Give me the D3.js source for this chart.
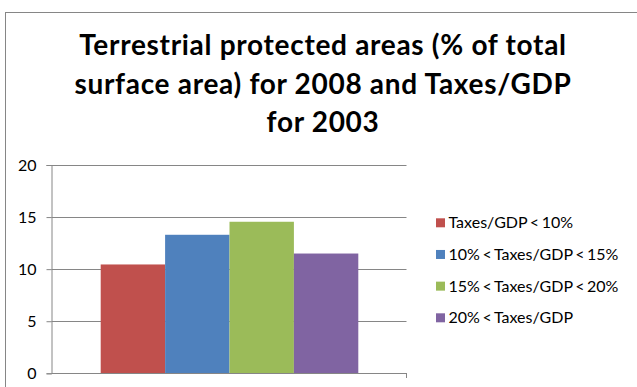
<!DOCTYPE html>
<html><head><meta charset="utf-8">
<script src="https://cdn.jsdelivr.net/npm/d3@7"></script>
<style>body{margin:0;background:#fff}svg{display:block}</style>
</head><body>
<svg id="c" width="637" height="387"></svg>
<script>
const titleLines = ["Terrestrial protected areas (% of total", "surface area) for 2008 and Taxes/GDP", "for 2003"];
const series = ["Taxes/GDP < 10%", "10% < Taxes/GDP < 15%", "15% < Taxes/GDP < 20%", "20% < Taxes/GDP"];
const values = [10.45, 13.3, 14.55, 11.5];
const colors = ["#c0504d", "#4f81bd", "#9bbb59", "#8064a2"];
const yTicks = [0, 5, 10, 15, 20];

(function () {
const svg = d3.select("#c");
const font = "Lato, 'Open Sans', sans-serif";

svg.append("rect").attr("x", 5.5).attr("y", 12.5).attr("width", 700).attr("height", 500)
  .attr("fill", "#fff").attr("stroke", "#868686").attr("stroke-width", 1);

const title = svg.append("text").attr("text-anchor", "middle").attr("font-family", font)
  .attr("font-weight", "bold").attr("font-size", 28).attr("letter-spacing", 0.7).attr("fill", "#000");
titleLines.forEach((t, i) => title.append("tspan").attr("x", 323).attr("y", 55 + i * 38.5).text(t));

const pLeft = 51.5, pRight = 406.5, pTop = 165, pBottom = 373.3;
const y = d3.scaleLinear().domain([0, 20]).range([pBottom, pTop]);
const x = d3.scaleBand().domain(series).range([100.7, 358.3]).padding(0);

svg.append("g").selectAll("line").data(yTicks.filter(d => d > 0)).join("line")
  .attr("x1", pLeft).attr("x2", pRight).attr("y1", d => Math.round(y(d)) + 0.5).attr("y2", d => Math.round(y(d)) + 0.5)
  .attr("stroke", "#868686").attr("stroke-width", 1);

svg.append("g").selectAll("rect").data(values).join("rect")
  .attr("x", (d, i) => x(series[i])).attr("width", x.bandwidth())
  .attr("y", d => y(d)).attr("height", d => y(0) - y(d))
  .attr("fill", (d, i) => colors[i]);

const yAxis = d3.axisLeft(y).tickValues(yTicks).tickSize(5).tickPadding(10).tickFormat(d3.format("d"));
const gy = svg.append("g").attr("transform", `translate(${pLeft},0)`).call(yAxis);
gy.select(".domain").attr("stroke", "#868686");
gy.selectAll(".tick line").attr("stroke", "#868686");
gy.selectAll(".tick text").attr("font-family", font).attr("font-size", 16).attr("fill", "#000");

svg.append("line").attr("x1", pLeft).attr("x2", pRight).attr("y1", Math.round(pBottom) + 0.5).attr("y2", Math.round(pBottom) + 0.5)
  .attr("stroke", "#868686");
svg.append("line").attr("x1", pRight).attr("x2", pRight).attr("y1", Math.round(pBottom)).attr("y2", Math.round(pBottom) + 5)
  .attr("stroke", "#868686");

const lg = svg.append("g").selectAll("g").data(series).join("g")
  .attr("transform", (d, i) => `translate(436,${222.8 + i * 31.67})`);
lg.append("rect").attr("x", 0).attr("y", -4.5).attr("width", 9).attr("height", 9).attr("fill", (d, i) => colors[i]);
lg.append("text").attr("x", 12.5).attr("y", 5.5).attr("font-family", font)
  .attr("font-size", 16).attr("word-spacing", -1.5).attr("fill", "#000").text(d => d);
})();
</script>
</body></html>
